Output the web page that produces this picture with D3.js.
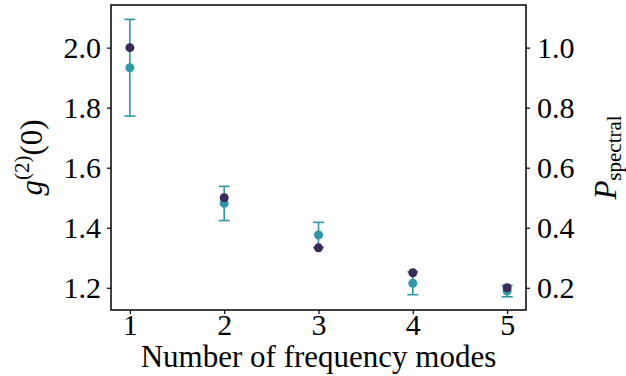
<!DOCTYPE html>
<html>
<head>
<meta charset="utf-8">
<script src="https://cdn.jsdelivr.net/npm/d3@7"></script>
<style>
    body { margin: 0; background: #fff; }
    text { font-family: "Liberation Serif", serif; fill: #000; }
</style>
</head>
<body>
<div id="chart"></div>
<script>
// data
const modes = [1, 2, 3, 4, 5];
const g2Values = [1.933, 1.481, 1.376, 1.215, 1.189];
const g2Errors = [0.161, 0.057, 0.042, 0.038, 0.019];
const pSpectral = [1.0, 0.5, 0.333, 0.25, 0.2];
const xTicks = [1, 2, 3, 4, 5];
const leftTicks = [1.2, 1.4, 1.6, 1.8, 2.0];
const rightTicks = [0.2, 0.4, 0.6, 0.8, 1.0];

let margin = { left: 111, right: 100, top: 5, bottom: 66 },
    width = 626 - margin.left - margin.right,
    height = 376 - margin.top - margin.bottom,
    teal = '#2f98a7',
    dark = '#3a2a5c',
    fontSize = 30;

const svg = d3.select('#chart').append('svg')
    .attr('width', 626)
    .attr('height', 376);

const focus = svg.append('g')
    .attr('transform', 'translate(' + margin.left + ',' + margin.top + ')');

const x = d3.scaleLinear().domain([0.8, 5.2]).range([0, width]);
const yLeft = d3.scaleLinear().domain([1.126, 2.142]).range([height, 0]);
const yRight = d3.scaleLinear().domain([0.126, 1.142]).range([height, 0]);

const xAxis = d3.axisBottom(x).tickValues(xTicks).tickSize(4).tickPadding(0)
    .tickFormat(d3.format('d'));
const leftAxis = d3.axisLeft(yLeft).tickValues(leftTicks).tickSize(4).tickPadding(6)
    .tickFormat(d3.format('.1f'));
const rightAxis = d3.axisRight(yRight).tickValues(rightTicks).tickSize(4).tickPadding(7)
    .tickFormat(d3.format('.1f'));

function styleAxis(g) {
    g.select('.domain').remove();
    g.attr('font-family', null);
    g.selectAll('line').attr('stroke', '#000').attr('stroke-width', 1.2);
    g.selectAll('text')
        .style('font-size', fontSize + 'px')
        .style('font-family', '"Liberation Serif", serif');
}

focus.append('g').attr('class', 'x axis')
    .attr('transform', 'translate(0,' + height + ')')
    .call(xAxis).call(styleAxis);
focus.append('g').attr('class', 'y axis')
    .call(leftAxis).call(styleAxis);
focus.append('g').attr('class', 'y2 axis')
    .attr('transform', 'translate(' + width + ',0)')
    .call(rightAxis).call(styleAxis);

// frame
focus.append('rect')
    .attr('width', width).attr('height', height)
    .attr('fill', 'none').attr('stroke', '#000').attr('stroke-width', 1.5);

const g2Data = modes.map((m, i) => ({ n: m, v: g2Values[i], e: g2Errors[i] }));
const pData = modes.map((m, i) => ({ n: m, v: pSpectral[i] }));

// error bars
const bars = focus.selectAll('.err').data(g2Data).enter().append('g').attr('class', 'err')
    .attr('stroke', teal).attr('stroke-width', 1.6);
bars.append('line')
    .attr('x1', d => x(d.n)).attr('x2', d => x(d.n))
    .attr('y1', d => yLeft(d.v - d.e)).attr('y2', d => yLeft(d.v + d.e));
bars.append('line')
    .attr('x1', d => x(d.n) - 5.5).attr('x2', d => x(d.n) + 5.5)
    .attr('y1', d => yLeft(d.v + d.e)).attr('y2', d => yLeft(d.v + d.e));
bars.append('line')
    .attr('x1', d => x(d.n) - 5.5).attr('x2', d => x(d.n) + 5.5)
    .attr('y1', d => yLeft(d.v - d.e)).attr('y2', d => yLeft(d.v - d.e));

focus.selectAll('.g2').data(g2Data).enter().append('circle').attr('class', 'g2')
    .attr('cx', d => x(d.n)).attr('cy', d => yLeft(d.v))
    .attr('r', 4.5).attr('fill', teal);

focus.selectAll('.ps').data(pData).enter().append('circle').attr('class', 'ps')
    .attr('cx', d => x(d.n)).attr('cy', d => yRight(d.v))
    .attr('r', 4.5).attr('fill', dark);

// axis labels
svg.append('text')
    .attr('x', margin.left + width / 2).attr('y', 367)
    .attr('text-anchor', 'middle').attr('font-size', 31)
    .text('Number of frequency modes');

const yl = svg.append('text')
    .attr('transform', 'translate(42,' + (margin.top + height / 2) + ') rotate(-90)')
    .attr('text-anchor', 'middle').attr('font-size', 31);
yl.append('tspan').attr('font-style', 'italic').text('g');
yl.append('tspan').attr('font-size', 21).attr('dy', -13).text('(2)');
yl.append('tspan').attr('dy', 13).text('(0)');

const yr = svg.append('text')
    .attr('transform', 'translate(616,' + (margin.top + height / 2) + ') rotate(-90)')
    .attr('text-anchor', 'middle').attr('font-size', 31);
yr.append('tspan').attr('font-style', 'italic').text('P');
yr.append('tspan').attr('font-size', 21).attr('dy', 5).text('spectral');
</script>
</body>
</html>
